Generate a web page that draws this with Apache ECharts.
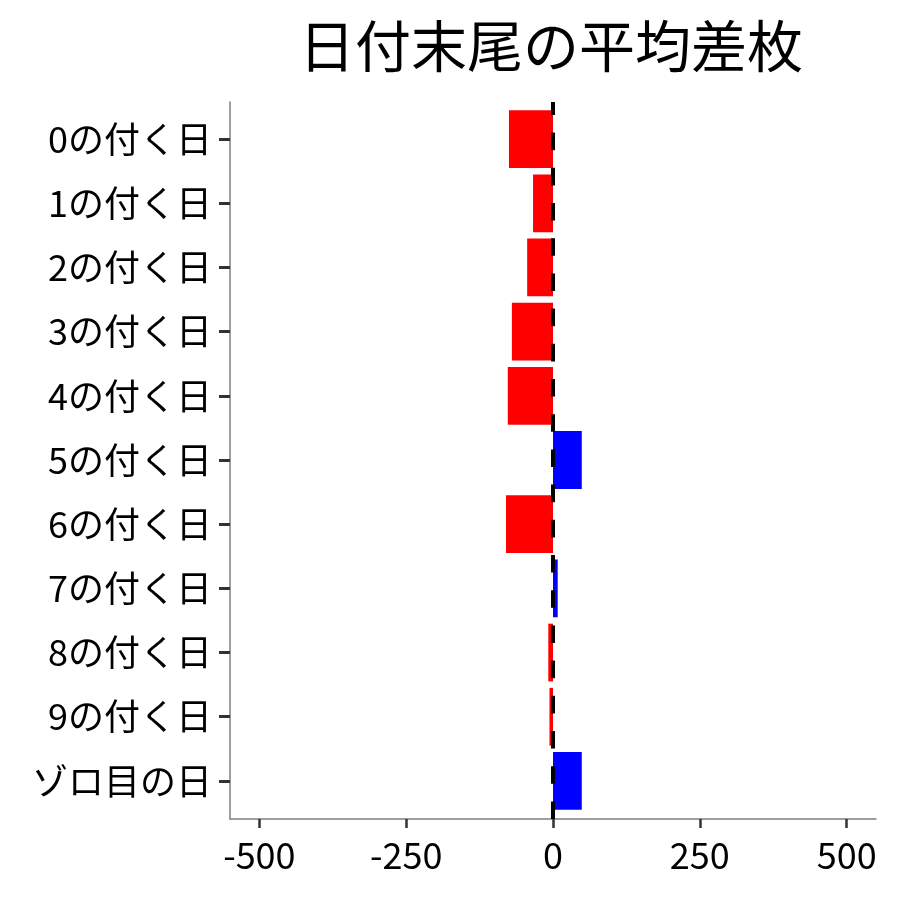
<!DOCTYPE html>
<html>
<head>
<meta charset="utf-8">
<script src="https://cdn.jsdelivr.net/npm/echarts@6/dist/echarts.min.js"></script>
<style>
html,body{margin:0;padding:0;background:#fff;}
#chart{width:900px;height:900px;}
</style>
</head>
<body>
<div id="chart"></div>
<script>
const titleText = '日付末尾の平均差枚';
const categories = ['0の付く日','1の付く日','2の付く日','3の付く日','4の付く日','5の付く日','6の付く日','7の付く日','8の付く日','9の付く日','ゾロ目の日'];
const values = [-75, -34, -44, -70, -77, 49, -80, 8, -8, -6, 49];
const xTicks = [-500, -250, 0, 250, 500];
const xMin = -550, xMax = 550;
const refLine = 0;

const FONT = '"Noto Sans CJK JP", "Noto Sans", sans-serif';
const chart = echarts.init(document.getElementById('chart'), null, {renderer: 'canvas'});

chart.setOption({
  backgroundColor: '#ffffff',
  animation: false,
  title: {
    text: titleText,
    left: 546,
    textAlign: 'center',
    top: 13,
    textStyle: {fontFamily: FONT, fontSize: 56, fontWeight: 'normal', color: '#000'}
  },
  grid: [
    {left: 230, right: 24, top: 102, bottom: 81},
    {left: 230, right: 24, top: 107, bottom: 87}
  ],
  xAxis: [
    {
      type: 'value', gridIndex: 0, min: xMin, max: xMax,
      axisLine: {show: true, onZero: false, lineStyle: {color: '#7f7f7f', width: 1.5}},
      axisTick: {show: true, length: 9, customValues: xTicks, lineStyle: {color: '#333', width: 2.5}},
      axisLabel: {show: true, customValues: xTicks, margin: 18, fontFamily: FONT, fontSize: 36, color: '#000'},
      splitLine: {show: false}
    },
    {
      type: 'value', gridIndex: 1, min: xMin, max: xMax, show: false,
      splitLine: {show: false}
    }
  ],
  yAxis: [
    {
      type: 'value', gridIndex: 0, min: 0, max: 1,
      axisLine: {show: true, onZero: false, lineStyle: {color: '#7f7f7f', width: 1.5}},
      axisTick: {show: false}, axisLabel: {show: false}, splitLine: {show: false}
    },
    {
      type: 'category', gridIndex: 1, data: categories, inverse: true,
      axisLine: {show: false, onZero: false},
      axisTick: {show: true, alignWithLabel: true, length: 11, lineStyle: {color: '#333', width: 3}},
      axisLabel: {margin: 18, fontFamily: FONT, fontSize: 36, color: '#000'},
      splitLine: {show: false}
    }
  ],
  series: [
    {
      type: 'bar', xAxisIndex: 1, yAxisIndex: 1,
      barCategoryGap: '10%',
      data: values.map(v => ({value: v, itemStyle: {color: v < 0 ? '#ff0000' : '#0000ff'}})),
      z: 2
    },
    {
      type: 'line', xAxisIndex: 0, yAxisIndex: 0, data: [], z: 5,
      markLine: {
        silent: true, symbol: 'none', label: {show: false},
        lineStyle: {color: '#000', width: 4, type: [17.6, 17.6]},
        data: [{xAxis: refLine}]
      }
    }
  ]
});
</script>
</body>
</html>
